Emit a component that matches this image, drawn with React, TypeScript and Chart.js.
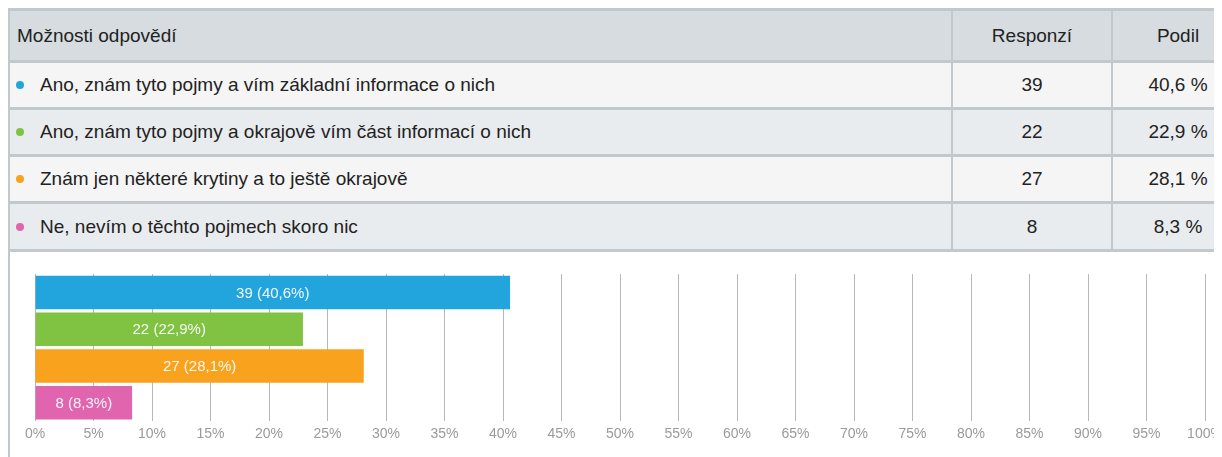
import React, { useEffect, useRef } from "react";
import { Chart, registerables } from "chart.js";

Chart.register(...registerables);

const answers = [
  "Ano, znám tyto pojmy a vím základní informace o nich",
  "Ano, znám tyto pojmy a okrajově vím část informací o nich",
  "Znám jen některé krytiny a to ještě okrajově",
  "Ne, nevím o těchto pojmech skoro nic",
];
const responses = [39, 22, 27, 8];
const shares = [40.6, 22.9, 28.1, 8.3];
const colors = ["#22a5dd", "#80c241", "#f8a21e", "#e065ae"];
const xTicks = [0, 5, 10, 15, 20, 25, 30, 35, 40, 45, 50, 55, 60, 65, 70, 75, 80, 85, 90, 95, 100];

const headerLabels = ["Možnosti odpovědí", "Responzí", "Podil"];

const FONT = '"Liberation Sans", Arial, sans-serif';
const BORDER = "#c2c9cc";

const fmt = (v: number) => v.toFixed(1).replace(".", ",");

const barLabelPlugin = {
  id: "barLabels",
  afterDatasetsDraw(chart: any) {
    const ctx = chart.ctx;
    const meta = chart.getDatasetMeta(0);
    ctx.save();
    ctx.font = `15px ${FONT}`;
    ctx.fillStyle = "rgba(255,255,255,0.93)";
    ctx.textAlign = "center";
    ctx.textBaseline = "middle";
    meta.data.forEach((bar: any, i: number) => {
      const { x, y, base } = bar.getProps(["x", "y", "base"], true);
      ctx.fillText(`${responses[i]} (${fmt(shares[i])}%)`, (x + base) / 2, y + 1);
    });
    ctx.restore();
  },
};

function BarChart() {
  const ref = useRef<HTMLCanvasElement | null>(null);
  useEffect(() => {
    if (!ref.current) return;
    const chart = new Chart(ref.current, {
      type: "bar",
      data: {
        labels: answers,
        datasets: [
          {
            data: shares,
            backgroundColor: colors,
            borderWidth: 0,
            barPercentage: 0.91,
            categoryPercentage: 1,
          },
        ],
      },
      options: {
        indexAxis: "y",
        animation: false,
        responsive: false,
        maintainAspectRatio: false,
        layout: { padding: { top: 21, left: 25, right: 35, bottom: 9 } },
        plugins: { legend: { display: false }, tooltip: { enabled: false } },
        scales: {
          x: {
            type: "linear",
            min: 0,
            max: 100,
            afterBuildTicks: (axis: any) => {
              axis.ticks = xTicks.map((v) => ({ value: v }));
            },
            ticks: {
              callback: (v: any) => `${v}%`,
              color: "#9a9a9a",
              font: { family: FONT, size: 14 },
              padding: 5,
              maxRotation: 0,
              autoSkip: false,
            },
            grid: { color: "#b8b8b8", lineWidth: 1, drawTicks: false },
            border: { display: false },
          },
          y: {
            display: false,
          },
        },
      },
      plugins: [barLabelPlugin],
    });
    return () => chart.destroy();
  }, []);
  return (
    <canvas
      ref={ref}
      width={1230}
      height={204}
      style={{ position: "absolute", left: 2, top: 245, width: 1230, height: 204 }}
    />
  );
}

const rowTops = [55, 102, 149, 196];
const rowHeights = [44, 44, 44, 45];
const rowBgs = ["#f5f5f5", "#e9ecee", "#f5f5f5", "#e9ecee"];

export default function App() {
  const cellText: React.CSSProperties = {
    position: "absolute",
    fontSize: 19,
    color: "#222",
    whiteSpace: "nowrap",
    lineHeight: "20px",
  };
  return (
    <div
      style={{
        position: "relative",
        width: 1214,
        height: 449,
        overflow: "hidden",
        fontFamily: FONT,
        background: "#fff",
      }}
    >
      {/* left border of panel */}
      <div style={{ position: "absolute", left: 0, top: 0, width: 2, height: 449, background: BORDER }} />
      {/* top border */}
      <div style={{ position: "absolute", left: 0, top: 0, width: 1240, height: 3, background: BORDER }} />
      {/* header */}
      <div style={{ position: "absolute", left: 2, top: 3, width: 1240, height: 49, background: "#d6dcdf" }} />
      <div style={{ position: "absolute", left: 0, top: 52, width: 1240, height: 3, background: BORDER }} />
      <div style={{ ...cellText, left: 9, top: 18 }}>{headerLabels[0]}</div>
      <div style={{ ...cellText, left: 945, width: 158, textAlign: "center", top: 18 }}>{headerLabels[1]}</div>
      <div style={{ ...cellText, left: 1105, width: 130, textAlign: "center", top: 18 }}>{headerLabels[2]}</div>
      {answers.map((a, i) => (
        <React.Fragment key={i}>
          <div
            style={{
              position: "absolute",
              left: 2,
              top: rowTops[i],
              width: 1240,
              height: rowHeights[i],
              background: rowBgs[i],
            }}
          />
          <div
            style={{
              position: "absolute",
              left: 0,
              top: rowTops[i] + rowHeights[i],
              width: 1240,
              height: 3,
              background: BORDER,
            }}
          />
          <div
            style={{
              position: "absolute",
              left: 8,
              top: rowTops[i] + rowHeights[i] / 2 - 4,
              width: 8,
              height: 8,
              borderRadius: 4,
              background: colors[i],
            }}
          />
          <div style={{ ...cellText, left: 32, top: rowTops[i] + rowHeights[i] / 2 - 10 }}>{a}</div>
          <div
            style={{
              ...cellText,
              left: 945,
              width: 158,
              textAlign: "center",
              top: rowTops[i] + rowHeights[i] / 2 - 10,
            }}
          >
            {responses[i]}
          </div>
          <div
            style={{
              ...cellText,
              left: 1105,
              width: 130,
              textAlign: "center",
              top: rowTops[i] + rowHeights[i] / 2 - 10,
            }}
          >
            {`${fmt(shares[i])} %`}
          </div>
        </React.Fragment>
      ))}
      {/* column dividers */}
      <div style={{ position: "absolute", left: 943, top: 3, width: 2, height: 241, background: BORDER }} />
      <div style={{ position: "absolute", left: 1103, top: 3, width: 2, height: 241, background: BORDER }} />
      <BarChart />
    </div>
  );
}
